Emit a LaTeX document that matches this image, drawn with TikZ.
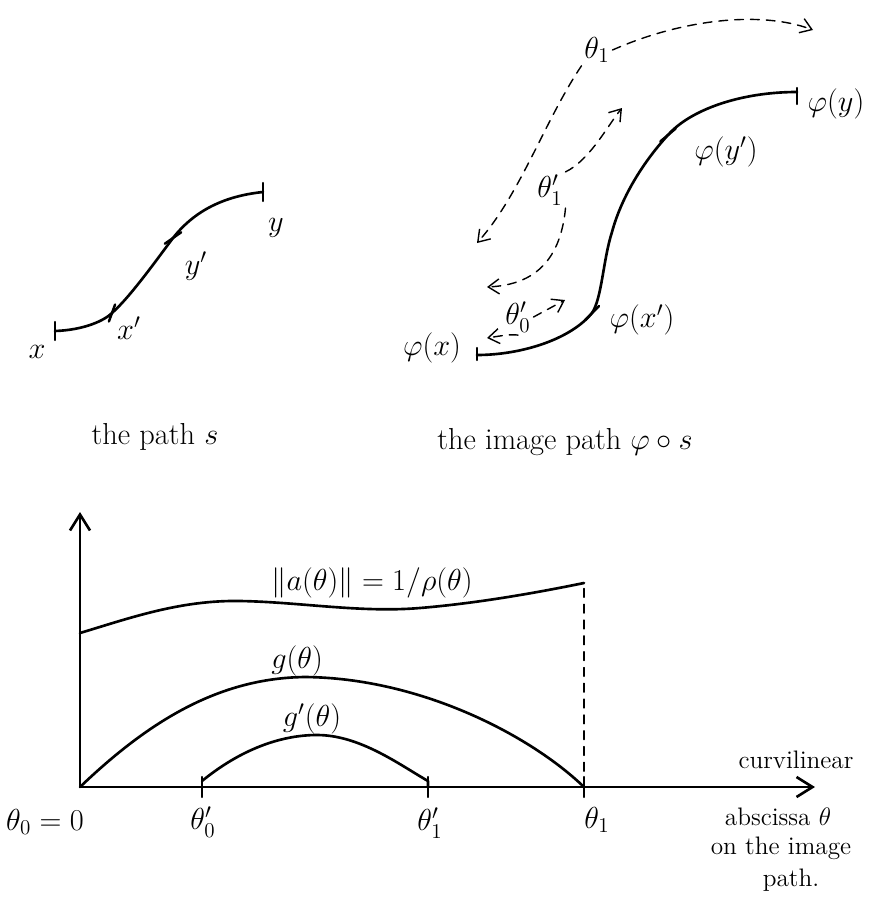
\documentclass[tikz,border=0pt]{standalone}
\usetikzlibrary{arrows.meta}
\tikzset{
  every picture/.style={line width=1.4pt, line cap=round},
  curve/.style={line width=1.5pt, line join=round},
  hairline/.style={dashed, line width=0.8pt, dash pattern=on 5pt off 4pt},
  dasharr/.style={hairline, -{Straight Barb[length=2.2mm, width=3mm]}},
  axis/.style={line width=1.5pt, -{Straight Barb[length=3.2mm, width=4mm]}},
  lbl/.style={font=\LARGE, inner sep=1pt},
  word/.style={font=\Large, inner sep=1pt},
}
\begin{document}
\begin{tikzpicture}[x=0.02cm, y=-0.02cm]
  \useasboundingbox (0,0) rectangle (893,899);
  % the path s
  \coordinate (sx) at (55,331); \coordinate (sxp) at (112,313);
  \coordinate (syp) at (173,238); \coordinate (sy) at (263,192);
  \draw[curve] (sx) .. controls (85,330) and (105,320) .. (sxp)
    .. controls (130,297) and (155,262) .. (syp)
    .. controls (195,210) and (225,196) .. (sy);
  \draw (sx) ++(0,-9) -- ++(0,18);
  \draw (sy) ++(0,-9) -- ++(0,18);
  \draw[rotate around={-20:(sxp)}] (sxp) ++(0,-9) -- ++(0,18);
  \draw[rotate around={-55:(syp)}] (syp) ++(0,-10) -- ++(0,20);
  \node[lbl] (lx) at (37,352) {$x$};
  \node[lbl] (lxp) at (129,328) {$x'$};
  \node[lbl] (lyp) at (196,266) {$y'$};
  \node[lbl] (ly) at (276,228) {$y$};
  \node[lbl] (caps) at (155,437) {the path $s$};
  % the image path
  \coordinate (px) at (477,355); \coordinate (pxp) at (592,313);
  \coordinate (pyp) at (668,135); \coordinate (py) at (797,92);
  \draw[curve] (px) .. controls (520,355) and (570,340) .. (pxp)
    .. controls (602,298) and (603,260) .. (612,232)
    .. controls (622,195) and (645,160) .. (pyp)
    .. controls (690,110) and (740,92) .. (py);
  \draw (px) ++(0,-7) -- ++(0,12);
  \draw (py) ++(0,-4) -- ++(0,16);
  \draw[rotate around={-45:(pxp)}] (pxp) ++(0,-10) -- ++(0,20);
  \draw[rotate around={-50:(pyp)}] (pyp) ++(0,-10) -- ++(0,20);
  \node[lbl] (lpx) at (432,348) {$\varphi(x)$};
  \node[lbl] (lpxp) at (642,320) {$\varphi(x')$};
  \node[lbl] (lpyp) at (726,152) {$\varphi(y')$};
  \node[lbl] (lpy) at (836,104) {$\varphi(y)$};
  \node[lbl] (capphi) at (565,442) {the image path $\varphi\circ s$};
  % arc lengths along the image path
  \coordinate (e1a) at (477,243); \coordinate (e1b) at (813,30);
  \coordinate (f1a) at (622,108); \coordinate (f1b) at (487,287);
  \coordinate (f0a) at (565,300); \coordinate (f0b) at (487,338);
  \node[lbl] (t1) at (597,50) {$\theta_1$};
  \node[lbl] (u1) at (550,190) {$\theta'_1$};
  \node[lbl] (u0) at (518,317) {$\theta'_0$};
  \draw[dasharr] (t1.south west) .. controls (545,120) and (520,195) .. (e1a);
  \draw[dasharr] (t1.east) .. controls (680,20) and (760,10) .. (e1b);
  \draw[dasharr] (u1.north east) .. controls (590,160) and (608,125) .. (f1a);
  \draw[dasharr] (u1.south east) .. controls (560,265) and (530,285) .. (f1b);
  \draw[dasharr] (u0.east) -- (f0a);
  \draw[dasharr] (u0.south) .. controls (510,334) and (500,336) .. (f0b);
  % the graph
  \coordinate (O) at (80,787);
  \coordinate (ytip) at (80,512); \coordinate (xtip) at (815,787);
  \draw[axis] (O) -- (ytip);
  \draw[axis] (O) -- (xtip);
  \foreach \t in {202,428,584} \draw (\t,777) -- (\t,797);
  \coordinate (top) at (584,583);
  \draw[hairline] (584,787) -- (top);
  \draw[curve] (80,633) .. controls (130,618) and (180,600) .. (240,601)
    .. controls (300,602) and (360,613) .. (420,608)
    .. controls (480,603) and (540,592) .. (top);
  \draw[curve] (O) .. controls (150,720) and (220,678) .. (305,677)
    .. controls (420,678) and (530,735) .. (584,787);
  \draw[curve] (202,781) .. controls (240,750) and (280,735) .. (317,735)
    .. controls (360,735) and (400,765) .. (428,781) -- (428,787);
  \node[lbl] (la) at (372,583) {$\|a(\theta)\| = 1/\rho(\theta)$};
  \node[lbl] (lg) at (297,661) {$g(\theta)$};
  \node[lbl] (lgp) at (312,719) {$g'(\theta)$};
  \node[lbl] (th0) at (45,822) {$\theta_0 = 0$};
  \node[lbl] (thp0) at (203,822) {$\theta'_0$};
  \node[lbl] (thp1) at (430,823) {$\theta'_1$};
  \node[lbl] (th1) at (597,820) {$\theta_1$};
  \node[word] (w1) at (796,760) {curvilinear};
  \node[word] (w2) at (778,817) {abscissa $\theta$};
  \node[word] (w3) at (781,848) {on the image};
  \node[word] (w4) at (791,880) {path.};
\end{tikzpicture}
\end{document}
